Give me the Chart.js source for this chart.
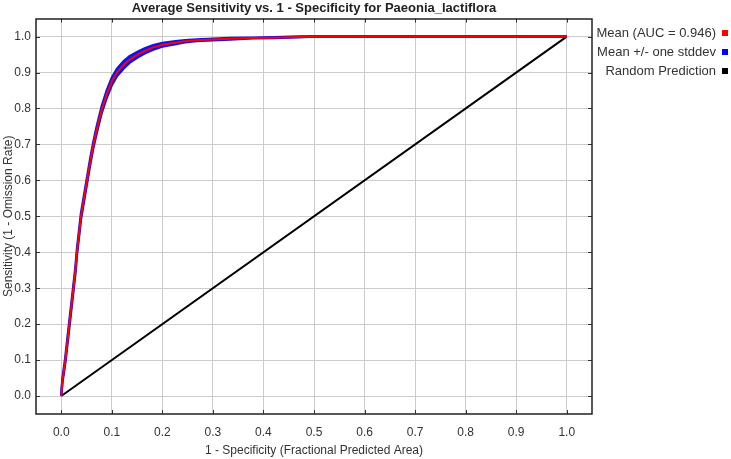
<!DOCTYPE html>
<html><head><meta charset="utf-8">
<script src="https://cdn.jsdelivr.net/npm/chart.js@4/dist/chart.umd.min.js"></script>
<style>html,body{margin:0;padding:0;background:#fff}#wrap{width:731px;height:459px}</style>
</head><body><div id="wrap"><canvas id="c" width="731" height="459"></canvas></div>
<script>
const chartTitle = "Average Sensitivity vs. 1 - Specificity for Paeonia_lactiflora";
const xTitle = "1 - Specificity (Fractional Predicted Area)";
const yTitle = "Sensitivity (1 - Omission Rate)";
const tickValues = [0, 0.1, 0.2, 0.3, 0.4, 0.5, 0.6, 0.7, 0.8, 0.9, 1.0];

const fpr      = [0, 0.002, 0.005, 0.008, 0.012, 0.016, 0.020, 0.024, 0.028, 0.031, 0.035, 0.039, 0.045, 0.051, 0.057, 0.063, 0.070, 0.080, 0.090, 0.100, 0.110, 0.123, 0.135, 0.150, 0.165, 0.182, 0.200, 0.222, 0.245, 0.268, 0.300, 0.334, 0.380, 0.420, 0.470, 0.500, 0.600, 0.700, 0.800, 0.900, 1.000];
const meanTpr  = [0, 0.040, 0.070, 0.100, 0.150, 0.200, 0.250, 0.300, 0.350, 0.400, 0.450, 0.500, 0.550, 0.600, 0.650, 0.695, 0.740, 0.797, 0.840, 0.875, 0.900, 0.921, 0.936, 0.949, 0.960, 0.970, 0.977, 0.982, 0.987, 0.990, 0.992, 0.994, 0.996, 0.997, 0.999, 1.0, 1.0, 1.0, 1.0, 1.0, 1.0];
const upperTpr = [0, 0.044, 0.076, 0.107, 0.158, 0.208, 0.258, 0.308, 0.358, 0.408, 0.458, 0.508, 0.558, 0.608, 0.658, 0.703, 0.749, 0.806, 0.850, 0.885, 0.910, 0.931, 0.945, 0.957, 0.967, 0.976, 0.982, 0.986, 0.990, 0.992, 0.994, 0.996, 0.997, 0.998, 1.0, 1.0, 1.0, 1.0, 1.0, 1.0, 1.0];
const lowerTpr = [0, 0.036, 0.064, 0.093, 0.142, 0.192, 0.242, 0.292, 0.342, 0.392, 0.442, 0.492, 0.542, 0.592, 0.642, 0.687, 0.731, 0.788, 0.830, 0.865, 0.890, 0.911, 0.927, 0.941, 0.953, 0.964, 0.972, 0.978, 0.984, 0.988, 0.990, 0.992, 0.995, 0.996, 0.998, 1.0, 1.0, 1.0, 1.0, 1.0, 1.0];
const randomX  = [0, 1];
const randomY  = [0, 1];

const legendLabels = ["Mean (AUC = 0.946)", "Mean +/- one stddev", "Random Prediction"];
const legendColors = ["#ff0000", "#0000ff", "#000000"];

const FONT = "'Liberation Sans', Arial, sans-serif";
const TEXT = "#333333";

function pts(xs, ys) { return xs.map((x, i) => ({x: x, y: ys[i]})); }

const framePlugin = {
  id: 'frame',
  afterDraw(chart) {
    const ctx = chart.ctx, a = chart.chartArea;
    const xs = chart.scales.x, ys = chart.scales.y;
    ctx.save();
    ctx.strokeStyle = "#333333";
    ctx.lineWidth = 1;
    ctx.beginPath();
    tickValues.forEach(v => {
      const px = Math.round(xs.getPixelForValue(v)) + 0.5;
      ctx.moveTo(px, a.top); ctx.lineTo(px, a.top + 4);
      ctx.moveTo(px, a.bottom); ctx.lineTo(px, a.bottom - 4);
      const py = Math.round(ys.getPixelForValue(v)) + 0.5;
      ctx.moveTo(a.left, py); ctx.lineTo(a.left + 4, py);
      ctx.moveTo(a.right, py); ctx.lineTo(a.right - 4, py);
    });
    ctx.stroke();
    ctx.lineWidth = 1.5;
    ctx.strokeStyle = "#222222";
    ctx.strokeRect(Math.round(a.left), Math.round(a.top), Math.round(a.right - a.left), Math.round(a.bottom - a.top));
    // legend
    ctx.font = "13px " + FONT;
    ctx.textAlign = "right";
    ctx.textBaseline = "middle";
    legendLabels.forEach((t, i) => {
      const cy = 33 + i * 19;
      ctx.fillStyle = TEXT;
      ctx.fillText(t, 716, cy);
      ctx.fillStyle = legendColors[i];
      ctx.fillRect(722, cy - 3, 6, 6);
    });
    ctx.restore();
  }
};

const tickCb = v => Number(v).toFixed(1);

new Chart(document.getElementById('c'), {
  type: 'scatter',
  data: {
    datasets: [
      { label: legendLabels[0], data: pts(fpr, meanTpr), borderColor: "#ff0000", borderWidth: 2, showLine: true, pointRadius: 0, tension: 0 },
      { label: legendLabels[1], data: pts(fpr, upperTpr), borderColor: "#1010f0", backgroundColor: "#1010f0", fill: '+1', borderWidth: 2.5, showLine: true, pointRadius: 0, tension: 0 },
      { label: legendLabels[1], data: pts(fpr, lowerTpr), borderColor: "#1010f0", borderWidth: 2.5, showLine: true, pointRadius: 0, tension: 0 },
      { label: legendLabels[2], data: pts(randomX, randomY), borderColor: "#000000", borderWidth: 2, showLine: true, pointRadius: 0, tension: 0 }
    ]
  },
  options: {
    responsive: false,
    animation: false,
    devicePixelRatio: 1,
    layout: { padding: { left: 0, right: 139, top: 0, bottom: 0 } },
    plugins: {
      legend: { display: false },
      tooltip: { enabled: false },
      title: { display: true, text: chartTitle, fullSize: false, color: "#222222",
               font: { family: FONT, size: 13, weight: 'bold' }, padding: { top: 1, bottom: 2 } }
    },
    scales: {
      x: {
        type: 'linear', min: -0.05, max: 1.05,
        afterBuildTicks: s => { s.ticks = tickValues.map(v => ({ value: v })); },
        afterFit: s => { s.height = 45; },
        ticks: { callback: tickCb, color: TEXT, font: { family: FONT, size: 12 }, padding: 11, maxRotation: 0, autoSkip: false },
        grid: { color: "#cccccc", lineWidth: 1, drawTicks: false },
        border: { display: false },
        title: { display: true, text: xTitle, color: TEXT, font: { family: FONT, size: 12 }, padding: { top: 0, bottom: 1 } }
      },
      y: {
        type: 'linear', min: -0.05, max: 1.05,
        afterBuildTicks: s => { s.ticks = tickValues.map(v => ({ value: v })); },
        afterFit: s => { s.width = 36; },
        ticks: { callback: tickCb, color: TEXT, font: { family: FONT, size: 12 }, padding: 5, autoSkip: false },
        grid: { color: "#cccccc", lineWidth: 1, drawTicks: false },
        border: { display: false },
        title: { display: true, text: yTitle, color: TEXT, font: { family: FONT, size: 12 }, padding: { top: 1, bottom: 0 } }
      }
    }
  },
  plugins: [framePlugin]
});
</script>
</body></html>
